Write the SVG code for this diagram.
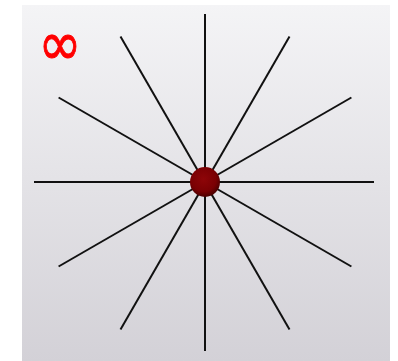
<svg xmlns="http://www.w3.org/2000/svg" width="398" height="361" viewBox="0 0 398 361">
<defs>
<linearGradient id="bg" x1="0" y1="0" x2="0" y2="1">
<stop offset="0" stop-color="#f4f4f6"/>
<stop offset="1" stop-color="#d3d1d7"/>
</linearGradient>
<radialGradient id="ball" cx="0.45" cy="0.4" r="0.6">
<stop offset="0" stop-color="#8e0508"/>
<stop offset="0.7" stop-color="#7a0003"/>
<stop offset="1" stop-color="#4a0000"/>
</radialGradient>
<style>
.ray{stroke:#111;stroke-width:2;stroke-linecap:butt}
.lbl{font-family:"DejaVu Sans",sans-serif;fill:#f00;font-weight:normal}
</style>
</defs>
<rect x="22" y="5" width="368" height="356" fill="url(#bg)"/>
<g id="connectors">
<line class="ray" x1="205" y1="14" x2="205" y2="351"/>
<line class="ray" x1="34" y1="182" x2="374" y2="182"/>
<line class="ray" x1="120.5" y1="36.6" x2="289.5" y2="329.4"/>
<line class="ray" x1="289.5" y1="36.6" x2="120.5" y2="329.4"/>
<line class="ray" x1="58.6" y1="97.5" x2="351.4" y2="266.5"/>
<line class="ray" x1="351.4" y1="97.5" x2="58.6" y2="266.5"/>
</g>
<g id="center">
<circle cx="205" cy="182" r="15" fill="url(#ball)"/>
</g>
<g id="label" transform="translate(60,46) scale(1.3,1.55)">
<text class="lbl" x="0" y="12" font-size="40" text-anchor="middle" stroke="#f00" stroke-width="0.6">∞</text>
</g>
</svg>
